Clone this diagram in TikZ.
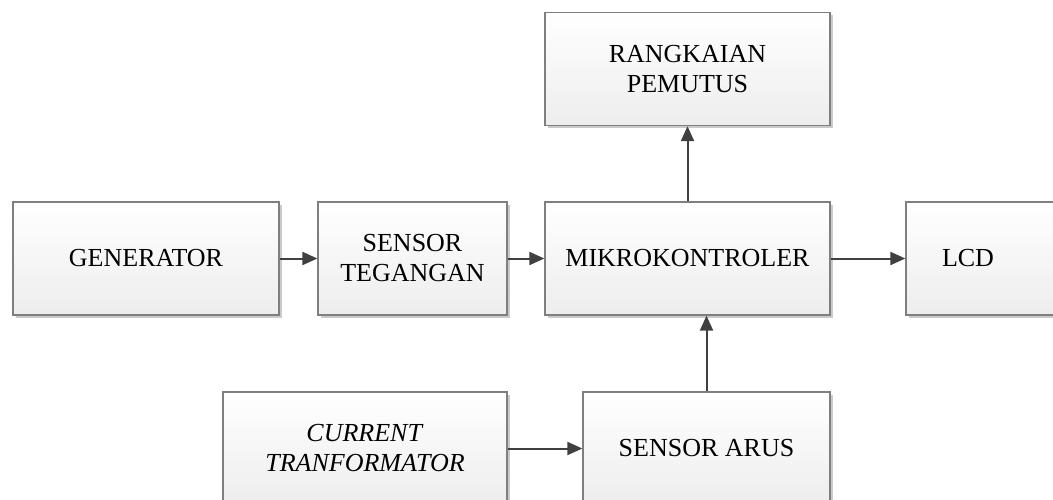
\documentclass[tikz,border=0pt]{standalone}
\usepackage{fontspec}
\setmainfont{Liberation Serif}
\usetikzlibrary{arrows.meta,shadows}
\definecolor{edge}{HTML}{7F7F7F}
\definecolor{wire}{HTML}{404040}
\tikzset{
  blk/.style={draw=edge, line width=1.3pt, top color=white, bottom color=black!7,
    drop shadow={shadow xshift=2.5pt, shadow yshift=-2.5pt, fill=black!35, opacity=0.6},
    minimum height=113pt, inner sep=0pt, align=center, font=\fontsize{26}{30}\selectfont},
  txt/.style={inner sep=0pt, align=center, font=\fontsize{26}{30}\selectfont},
  conn/.style={draw=wire, line width=2pt, -{Triangle[length=15pt,width=13pt]}}
}
\begin{document}
\begin{tikzpicture}[x=1pt,y=-1pt]
\useasboundingbox (0,0) rectangle (1053,499);
\clip (0,0) rectangle (1053,499);
\node[blk, minimum width=266pt] (gen) at (146,258.5) {GENERATOR};
\node[blk, minimum width=189pt] (st) at (412.5,258.5) {SENSOR\\TEGANGAN};
\node[blk, minimum width=285pt] (mk) at (687.5,258.5) {MIKROKONTROLER};
\node[blk, minimum width=164pt] (lcd) at (988,258.5) {};
\node[txt] (lcdt) at (968,258.5) {LCD};
\node[blk, minimum width=285pt] (rp) at (687.5,69) {RANGKAIAN\\PEMUTUS};
\node[blk, minimum width=284pt] (ct) at (365,448.5) {\textit{CURRENT}\\\textit{TRANFORMATOR}};
\node[blk, minimum width=247pt] (sa) at (706.5,448.5) {SENSOR ARUS};
\draw[conn] (gen.east) -- (st.west);
\draw[conn] (st.east) -- (mk.west);
\draw[conn] (mk.east) -- (lcd.west);
\draw[conn] (mk.north) -- (rp.south);
\draw[conn] (ct.east) -- (sa.west);
\draw[conn] (sa.north) -- (sa.north |- mk.south);
\end{tikzpicture}
\end{document}
